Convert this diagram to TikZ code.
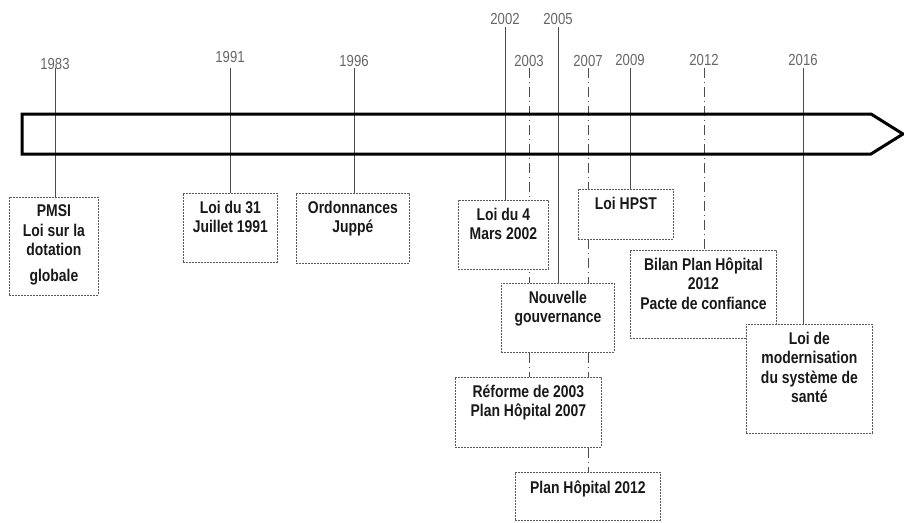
\documentclass[tikz,border=0pt]{standalone}
\usepackage{fontspec}
\setmainfont{Liberation Sans}[FakeStretch=0.82]
\usetikzlibrary{backgrounds}
\usetikzlibrary{positioning}
\usetikzlibrary{calc}
\definecolor{yeargray}{rgb}{0.4,0.4,0.4}
\definecolor{boxgray}{rgb}{0.35,0.35,0.35}

\begin{document}
\begin{tikzpicture}[
            x = 1pt, y = -1pt, % pixel-like units, y going down
            year/.style = {text = yeargray, font = \fontsize{16}{18}\selectfont, inner sep = 1pt, anchor = base},
            event/.style = {draw = boxgray, dash pattern = on 2pt off 1pt, line width = 0.8pt,
                            fill = white, anchor = north west, inner sep = 0pt},
            eventtext/.style = {font = \bfseries\fontsize{17}{19.5}\selectfont, text = black!90,
                                align = center, anchor = north, inner sep = 0pt,
                                execute at begin node = \strut},
            tick/.style = {draw = black!70, line width = 0.9pt},
            dashtick/.style = {tick, dash pattern = on 10pt off 4pt on 1pt off 4pt}
        ]

        \useasboundingbox (0,0) rectangle (904,522);

        % time arrow
        \draw[line width = 3pt, line join = miter] (22,114) -- (871,114) -- (903,134) -- (871,154) -- (22,154) -- cycle;

        % years
        \node[year] (Y83) at (55,69) {1983};
        \node[year] (Y91) at (230,62) {1991};
        \node[year] (Y96) at (354,66) {1996};
        \node[year] (Y02) at (505,24) {2002};
        \node[year] (Y05) at (558,24) {2005};
        \node[year] (Y03) at (529,66) {2003};
        \node[year] (Y07) at (588,66) {2007};
        \node[year] (Y09) at (630,65) {2009};
        \node[year] (Y12) at (704,65) {2012};
        \node[year] (Y16) at (803,65) {2016};

        \coordinate (TOP) at (0,68);
        \coordinate (HIGH) at (0,27);

        % events
        \node[event, minimum width = 89pt, minimum height = 98pt] (PMSI) at (9,197) {};
        \node[event, minimum width = 94pt, minimum height = 69pt] (L91) at (183,193) {};
        \node[event, minimum width = 113pt, minimum height = 70pt] (JUP) at (296,193) {};
        \node[event, minimum width = 90pt, minimum height = 69pt] (L02) at (458,200) {};
        \node[event, minimum width = 95pt, minimum height = 50pt] (HPST) at (578,189) {};
        \node[event, minimum width = 113pt, minimum height = 69pt] (NG) at (501,283) {};
        \node[event, minimum width = 146pt, minimum height = 88pt] (BIL) at (630,250) {};
        \node[event, minimum width = 146pt, minimum height = 70pt] (REF) at (455,377) {};
        \node[event, minimum width = 145pt, minimum height = 48pt] (PH) at (515,472) {};
        \node[event, minimum width = 126pt, minimum height = 109pt] (LMS) at (746,324) {};

        \node[eventtext] at ($(PMSI.north)+(0,7.5)$) {PMSI\\Loi sur la\\dotation\\[6pt]globale};
        \node[eventtext] at ($(L91.north)+(0,7.5)$) {Loi du 31\\Juillet 1991};
        \node[eventtext] at ($(JUP.north)+(0,7.5)$) {Ordonnances\\Jupp\'e};
        \node[eventtext] at ($(L02.north)+(0,7.5)$) {Loi du 4\\Mars 2002};
        \node[eventtext] at ($(HPST.north)+(0,6.5)$) {Loi HPST};
        \node[eventtext] at ($(NG.north)+(0,7.5)$) {Nouvelle\\gouvernance};
        \node[eventtext] at ($(BIL.north)+(0,7.5)$) {Bilan Plan H\^opital\\2012\\Pacte de confiance};
        \node[eventtext] at ($(REF.north)+(0,7.5)$) {R\'eforme de 2003\\Plan H\^opital 2007};
        \node[eventtext] at ($(PH.north)+(0,7.5)$) {Plan H\^opital 2012};
        \node[eventtext] at ($(LMS.north)+(0,7.5)$) {Loi de\\modernisation\\du syst\`eme de\\sant\'e};

        % year ticks, behind the boxes
        \begin{scope}[on background layer]
            \draw[tick] (Y83 |- TOP) -- (Y83 |- PMSI.north);
            \draw[tick] (Y91 |- TOP) -- (Y91 |- L91.north);
            \draw[tick] (Y96 |- TOP) -- (Y96 |- JUP.north);
            \draw[tick] (Y02 |- HIGH) -- (Y02 |- L02.north);
            \draw[tick] (Y05 |- HIGH) -- (Y05 |- NG.north);
            \draw[dashtick] (Y03 |- TOP) -- (Y03 |- REF.north);
            \draw[dashtick] (Y07 |- TOP) -- (Y07 |- PH.north);
            \draw[tick] (Y09 |- TOP) -- (Y09 |- HPST.north);
            \draw[dashtick] (Y12 |- TOP) -- (Y12 |- BIL.north);
            \draw[tick] (Y16 |- TOP) -- (Y16 |- LMS.north);
        \end{scope}

\end{tikzpicture}
\end{document}
